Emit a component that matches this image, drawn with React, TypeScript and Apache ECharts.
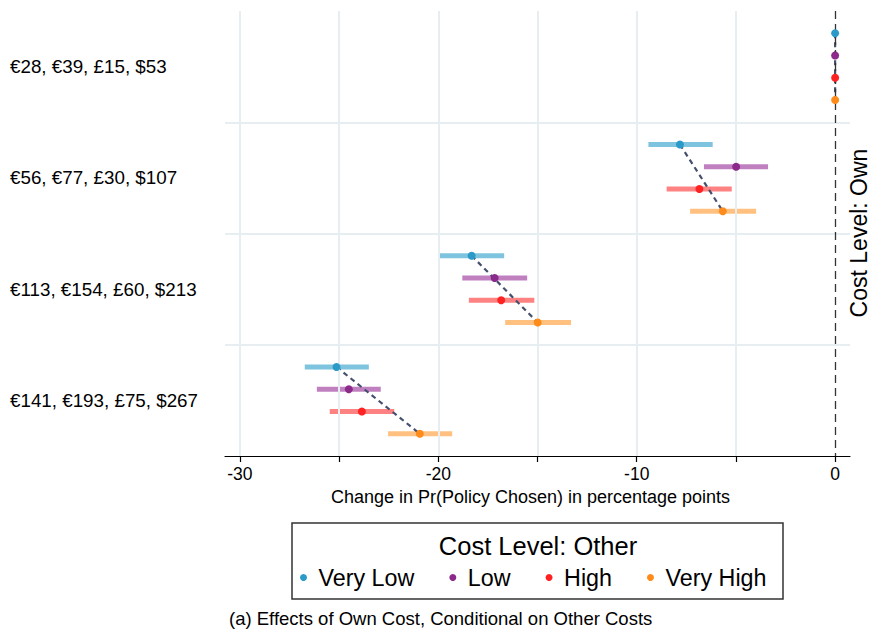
import React, { useEffect, useRef } from "react";
import * as echarts from "echarts";

const GROUP_LABELS = [
  "€28, €39, £15, $53",
  "€56, €77, £30, $107",
  "€113, €154, £60, $213",
  "€141, €193, £75, $267",
];
const LEVELS = ["Very Low", "Low", "High", "Very High"];

const EST_VERY_LOW = [0, -7.82, -18.32, -25.13];
const EST_LOW = [0, -4.99, -17.16, -24.51];
const EST_HIGH = [0, -6.84, -16.83, -23.85];
const EST_VERY_HIGH = [0, -5.66, -14.99, -20.93];

const LO_VERY_LOW = [0, -9.41, -19.95, -26.73];
const HI_VERY_LOW = [0, -6.17, -16.68, -23.5];
const LO_LOW = [0, -6.61, -18.79, -26.12];
const HI_LOW = [0, -3.38, -15.52, -22.9];
const LO_HIGH = [0, -8.49, -18.46, -25.47];
const HI_HIGH = [0, -5.21, -15.16, -22.22];
const LO_VERY_HIGH = [0, -7.31, -16.63, -22.53];
const HI_VERY_HIGH = [0, -3.98, -13.31, -19.3];

const X_TICKS = [-30, -25, -20, -15, -10, -5, 0];
const X_LABELS = [-30, -20, -10, 0];
const X_GRID = [-30, -25, -20, -15, -10, -5];
const GROUP_SEPARATORS = [5, 10, 15];
const GROUP_CENTERS = [2.5, 7.5, 12.5, 17.5];

const POINT_COLORS = ["#2b9ac9", "#8b2a8b", "#ff2222", "#ff8c1a"];
const BAR_COLORS = ["#7fc4de", "#c080c0", "#ff8282", "#ffc080"];

const ESTS = [EST_VERY_LOW, EST_LOW, EST_HIGH, EST_VERY_HIGH];
const LOS = [LO_VERY_LOW, LO_LOW, LO_HIGH, LO_VERY_HIGH];
const HIS = [HI_VERY_LOW, HI_LOW, HI_HIGH, HI_VERY_HIGH];

const rowPos = (g: number, k: number) => g * 5 + k + 1;

export default function App() {
  const ref = useRef<HTMLDivElement>(null);
  useEffect(() => {
    document.body.style.margin = "0";
    const chart = echarts.init(ref.current!, undefined, { renderer: "svg" });
    const font = "Liberation Sans, Arial, Helvetica, sans-serif";

    const barSeries = LEVELS.map((lvl, k) => ({
      type: "custom",
      name: lvl + " CI",
      z: 3,
      silent: true,
      data: GROUP_LABELS.map((_, g) => [LOS[k][g], HIS[k][g], rowPos(g, k)]),
      renderItem: (params: any, api: any) => {
        const a = api.coord([api.value(0), api.value(2)]);
        const b = api.coord([api.value(1), api.value(2)]);
        return {
          type: "rect",
          shape: { x: a[0], y: a[1] - 2.5, width: b[0] - a[0], height: 5 },
          style: { fill: BAR_COLORS[k] },
        };
      },
    }));

    const connectorSeries = GROUP_LABELS.map((_, g) => ({
      type: "line",
      name: "connector" + g,
      z: 4,
      silent: true,
      symbol: "none",
      data: [
        [EST_VERY_LOW[g], rowPos(g, 0)],
        [EST_VERY_HIGH[g], rowPos(g, 3)],
      ],
      lineStyle: { color: "#454f6e", width: 2.2, type: [5, 4] },
    }));

    const pointSeries = LEVELS.map((lvl, k) => ({
      type: "scatter",
      name: lvl,
      z: 5,
      symbol: "circle",
      symbolSize: 8,
      itemStyle: { color: POINT_COLORS[k], opacity: 1 },
      data: GROUP_LABELS.map((_, g) => [ESTS[k][g], rowPos(g, k)]),
    }));

    const gridSeries = {
      type: "line",
      name: "grid",
      z: 1,
      silent: true,
      data: [],
      markLine: {
        silent: true,
        symbol: "none",
        animation: false,
        label: { show: false },
        lineStyle: { color: "#e6eef2", width: 2, type: "solid" },
        data: [
          ...X_GRID.map((v) => ({ xAxis: v })),
          ...GROUP_SEPARATORS.map((v) => ({ yAxis: v })),
        ],
      },
    };

    const zeroSeries = {
      type: "line",
      name: "zero",
      z: 2,
      silent: true,
      data: [],
      markLine: {
        silent: true,
        symbol: "none",
        animation: false,
        label: { show: false },
        lineStyle: { color: "#333333", width: 1.3, type: [8, 5] },
        data: [{ xAxis: 0 }],
      },
    };

    chart.setOption({
      animation: false,
      textStyle: { fontFamily: font },
      grid: { left: 225, right: 20, top: 11, bottom: 174 },
      xAxis: {
        type: "value",
        min: -30.75,
        max: 0.75,
        axisLine: { show: true, onZero: false, lineStyle: { color: "#000", width: 1.2 } },
        axisTick: {
          show: true,
          customValues: X_TICKS,
          length: 6,
          lineStyle: { color: "#000", width: 1.2 },
        },
        axisLabel: {
          customValues: X_LABELS,
          fontSize: 17.5,
          color: "#000",
          margin: 9,
          fontFamily: font,
        },
        splitLine: { show: false },
        name: "Change in Pr(Policy Chosen) in percentage points",
        nameLocation: "middle",
        nameGap: 31,
        nameTextStyle: {
          fontSize: 18,
          color: "#000",
          fontFamily: font,
          padding: [0, 14, 0, 0],
        },
      },
      yAxis: {
        type: "value",
        min: 0,
        max: 20,
        inverse: true,
        axisLine: { show: false },
        axisTick: { show: false },
        splitLine: { show: false },
        axisLabel: {
          customValues: GROUP_CENTERS,
          formatter: (v: number) => GROUP_LABELS[Math.round((v - 2.5) / 5)] ?? "",
          align: "left",
          margin: 215,
          fontSize: 18.8,
          color: "#000",
          fontFamily: font,
        },
      },
      legend: {
        data: LEVELS,
        icon: "circle",
        itemWidth: 20,
        itemHeight: 7,
        itemGap: 35,
        left: 300,
        top: 566,
        padding: 0,
        selectedMode: false,
        itemStyle: { opacity: 1 },
        textStyle: { fontSize: 23.3, color: "#000", fontFamily: font },
      },
      graphic: [
        {
          type: "rect",
          shape: { x: 292, y: 523, width: 491, height: 76 },
          style: { fill: "none", stroke: "#333", lineWidth: 1.5 },
        },
        {
          type: "text",
          x: 538,
          y: 546,
          style: {
            text: "Cost Level: Other",
            fontSize: 25.5,
            fontFamily: font,
            fill: "#000",
            align: "center",
            verticalAlign: "middle",
          },
        },
        {
          type: "text",
          x: 858.5,
          y: 233,
          rotation: Math.PI / 2,
          style: {
            text: "Cost Level: Own",
            fontSize: 23,
            fontFamily: font,
            fill: "#000",
            align: "center",
            verticalAlign: "middle",
          },
        },
        {
          type: "text",
          x: 229,
          y: 618,
          style: {
            text: "(a) Effects of Own Cost, Conditional on Other Costs",
            fontSize: 18.5,
            fontFamily: font,
            fill: "#000",
            align: "left",
            verticalAlign: "middle",
          },
        },
      ],
      series: [gridSeries, zeroSeries, ...barSeries, ...connectorSeries, ...pointSeries],
    });
    return () => chart.dispose();
  }, []);
  return <div ref={ref} style={{ width: 870, height: 630 }} />;
}
